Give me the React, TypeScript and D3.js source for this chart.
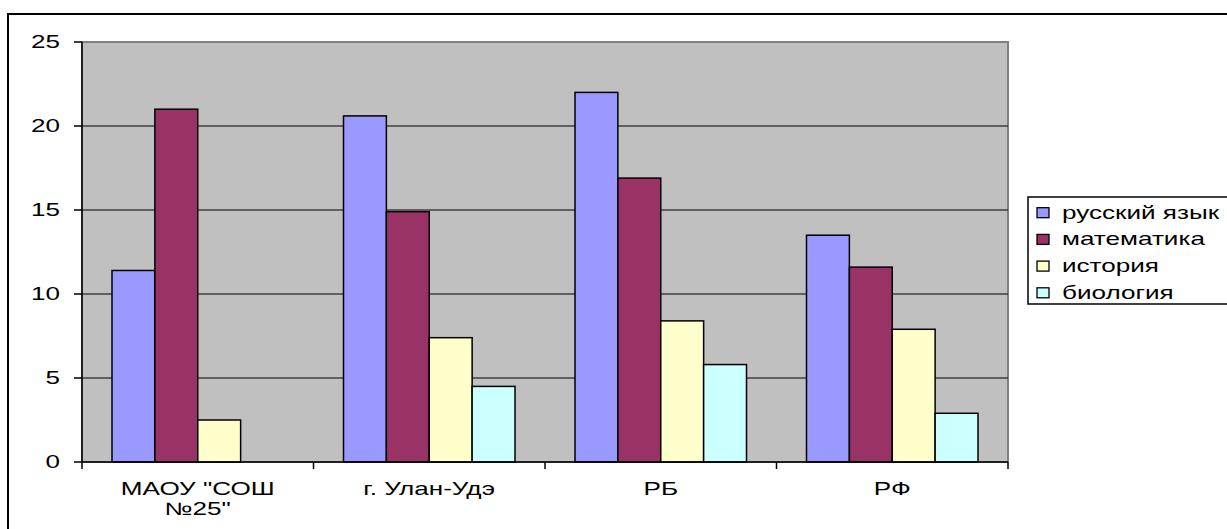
import React from "react";
import * as d3 from "d3";

const categories = ['МАОУ "СОШ\n№25"', "г. Улан-Удэ", "РБ", "РФ"];
const seriesNames = ["русский язык", "математика", "история", "биология"];
const seriesColors = ["#9999FF", "#993366", "#FFFFCC", "#CCFFFF"];
const russian = [11.4, 20.6, 22.0, 13.5];
const math = [21.0, 14.9, 16.9, 11.6];
const history = [2.5, 7.4, 8.4, 7.9];
const biology = [0, 4.5, 5.8, 2.9];
const yTicks = [0, 5, 10, 15, 20, 25];

const seriesValues = [russian, math, history, biology];

const font = "Arial, 'Liberation Sans', sans-serif";
const FS = 18;
const SX = 1.45;

function T({ x, y, anchor = "start", children }: { x: number; y: number; anchor?: string; children: React.ReactNode }) {
  return (
    <text transform={`translate(${x},${y}) scale(${SX},1)`} x={0} y={0} textAnchor={anchor as any}
      fontFamily={font} fontSize={FS} fill="#000">
      {children}
    </text>
  );
}

export default function App() {
  const W = 1227, H = 529;
  const left = 82, right = 1008, top = 42, bottom = 462;
  const x0 = d3.scaleBand<number>().domain(d3.range(categories.length)).range([left, right]).padding(0);
  const bw = x0.bandwidth();
  const x1 = d3.scaleBand<number>().domain(d3.range(seriesNames.length)).range([30, bw - 30]).padding(0);
  const y = d3.scaleLinear().domain([0, 25]).range([bottom, top]);

  return (
    <svg width={W} height={H} style={{ position: "absolute", left: 0, top: 0, background: "#fff" }}>
      <rect x={8} y={14} width={W + 20} height={H + 20} fill="#fff" stroke="#000" strokeWidth={2} />
      <rect x={left} y={top} width={right - left} height={bottom - top} fill="#C0C0C0" stroke="#808080" strokeWidth={2} />
      {yTicks.filter(t => t > 0 && t < 25).map(t => (
        <line key={t} x1={left} x2={right} y1={y(t)} y2={y(t)} stroke="#000" strokeWidth={1.2} />
      ))}
      {seriesValues.map((vals, si) =>
        vals.map((v, ci) =>
          v > 0 ? (
            <rect key={`${si}-${ci}`} x={(x0(ci) as number) + (x1(si) as number)} y={y(v)} width={x1.bandwidth()} height={y(0) - y(v)}
              fill={seriesColors[si]} stroke="#000" strokeWidth={1.5} />
          ) : null
        )
      )}
      <line x1={left} x2={left} y1={top} y2={bottom} stroke="#000" strokeWidth={1.5} />
      <line x1={left} x2={right} y1={bottom} y2={bottom} stroke="#000" strokeWidth={1.5} />
      {yTicks.map(t => (
        <g key={t}>
          <line x1={left - 8} x2={left} y1={y(t)} y2={y(t)} stroke="#000" strokeWidth={1.5} />
          <T x={60} y={y(t) + 6} anchor="end">{t}</T>
        </g>
      ))}
      {d3.range(categories.length + 1).map(i => {
        const xx = left + i * bw;
        return <line key={i} x1={xx} x2={xx} y1={bottom} y2={bottom + 7} stroke="#000" strokeWidth={1.5} />;
      })}
      {categories.map((c, ci) => {
        const cx = (x0(ci) as number) + bw / 2;
        return (
          <g key={ci}>
            {c.split("\n").map((line, li) => (
              <T key={li} x={cx} y={495 + li * 20} anchor="middle">{line}</T>
            ))}
          </g>
        );
      })}
      <rect x={1028} y={197} width={220} height={107} fill="#fff" stroke="#000" strokeWidth={1.5} />
      {seriesNames.map((n, i) => {
        const cy = 212.7 + i * 26.7;
        return (
          <g key={n}>
            <rect x={1037} y={cy - 5} width={12} height={10} fill={seriesColors[i]} stroke="#000" strokeWidth={1.3} />
            <T x={1062} y={cy + 6}>{n}</T>
          </g>
        );
      })}
    </svg>
  );
}
